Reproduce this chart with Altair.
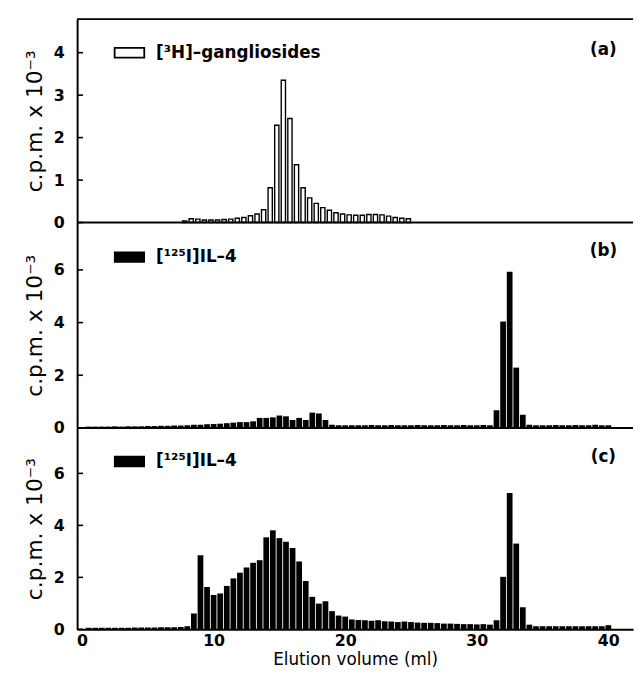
import altair as alt
import pandas as pd

# ---- data ----
ML_A = [7.8, 8.3, 8.8, 9.3, 9.8, 10.3, 10.8, 11.3, 11.8, 12.3, 12.8, 13.3,
        13.8, 14.3, 14.8, 15.3, 15.8, 16.3, 16.8, 17.3, 17.8, 18.3, 18.8,
        19.3, 19.8, 20.3, 20.8, 21.3, 21.8, 22.3, 22.8, 23.3, 23.8, 24.3, 24.8]
CPM_A = [0.04, 0.09, 0.08, 0.06, 0.06, 0.06, 0.07, 0.08, 0.10, 0.12, 0.16,
         0.20, 0.30, 0.82, 2.29, 3.35, 2.45, 1.36, 0.82, 0.58, 0.45, 0.35,
         0.29, 0.23, 0.20, 0.18, 0.17, 0.17, 0.19, 0.19, 0.18, 0.15, 0.12,
         0.10, 0.09]

ML = [0.5, 1.0, 1.5, 2.0, 2.5, 3.0, 3.5, 4.0, 4.5, 5.0, 5.5, 6.0, 6.5, 7.0,
      7.5, 8.0, 8.5, 9.0, 9.5, 10.0, 10.5, 11.0, 11.5, 12.0, 12.5, 13.0,
      13.5, 14.0, 14.5, 15.0, 15.5, 16.0, 16.5, 17.0, 17.5, 18.0, 18.5,
      19.0, 19.5, 20.0, 20.5, 21.0, 21.5, 22.0, 22.5, 23.0, 23.5, 24.0,
      24.5, 25.0, 25.5, 26.0, 26.5, 27.0, 27.5, 28.0, 28.5, 29.0, 29.5,
      30.0, 30.5, 31.0, 31.5, 32.0, 32.5, 33.0, 33.5, 34.0, 34.5, 35.0,
      35.5, 36.0, 36.5, 37.0, 37.5, 38.0, 38.5, 39.0, 39.5, 40.0]

CPM_B = [0.05, 0.05, 0.05, 0.05, 0.06, 0.05, 0.06, 0.06,
         0.06, 0.07, 0.07, 0.08, 0.08, 0.09, 0.09, 0.10,
         0.12, 0.12, 0.14, 0.15, 0.16, 0.18, 0.20, 0.22,
         0.22, 0.25, 0.38, 0.38, 0.40, 0.47, 0.44, 0.30,
         0.38, 0.30, 0.58, 0.55, 0.30, 0.12, 0.10, 0.10,
         0.10, 0.10, 0.10, 0.11, 0.10, 0.10, 0.11, 0.10,
         0.10, 0.10, 0.11, 0.10, 0.10, 0.10, 0.11, 0.10,
         0.10, 0.11, 0.10, 0.10, 0.11, 0.10, 0.67, 4.04,
         5.93, 2.29, 0.50, 0.12, 0.10, 0.10, 0.10, 0.11,
         0.10, 0.10, 0.11, 0.10, 0.10, 0.12, 0.10, 0.10]

CPM_C = [0.06, 0.06, 0.06, 0.06, 0.06, 0.06, 0.06, 0.07,
         0.07, 0.07, 0.07, 0.08, 0.08, 0.08, 0.09, 0.12,
         0.61, 2.85, 1.63, 1.32, 1.38, 1.67, 1.96, 2.18,
         2.38, 2.56, 2.66, 3.54, 3.81, 3.51, 3.37, 3.13,
         2.61, 1.86, 1.25, 0.99, 1.08, 0.70, 0.53, 0.49,
         0.38, 0.36, 0.35, 0.33, 0.35, 0.31, 0.30, 0.28,
         0.30, 0.28, 0.26, 0.25, 0.25, 0.24, 0.22, 0.22,
         0.21, 0.20, 0.20, 0.19, 0.20, 0.18, 0.35, 2.02,
         5.25, 3.30, 0.85, 0.18, 0.12, 0.12, 0.12, 0.12,
         0.12, 0.12, 0.12, 0.12, 0.12, 0.12, 0.12, 0.16]

X_TICKS = [0, 10, 20, 30, 40]
Y_TICKS_A = [0, 1, 2, 3, 4]
Y_TICKS_BC = [0, 2, 4, 6]
LEGEND_A = "[³H]–gangliosides"
LEGEND_BC = "[¹²⁵I]IL–4"
TAGS = ["(a)", "(b)", "(c)"]
Y_TITLE = "c.p.m. x 10⁻³"
X_TITLE = "Elution volume (ml)"

W = 563
XDOM = [0, 41.5]
FONT = "DejaVu Sans"


def panel(ml, cpm, ymax, h, yticks, legend, tag, filled, bottom, top_line,
          leg_y, tag_y):
    df = pd.DataFrame({"ml": ml, "cpm": cpm})
    scale_x = alt.Scale(domain=XDOM, nice=False, zero=False)
    if bottom:
        xaxis = alt.Axis(values=X_TICKS, title=X_TITLE, ticks=False,
                         domain=True, grid=False, labelPadding=3,
                         labelFontSize=16, labelFontWeight="bold",
                         titleFontSize=17, titleFontWeight="normal",
                         titlePadding=4, labelFlush=False)
        x = alt.X("ml:Q", scale=scale_x, axis=xaxis)
    else:
        x = alt.X("ml:Q", scale=scale_x, axis=None)
    y = alt.Y("cpm:Q", scale=alt.Scale(domain=[0, ymax], nice=False),
              axis=alt.Axis(values=yticks, title=Y_TITLE, ticks=False,
                            labelPadding=13, grid=False, format="d",
                            labelFontSize=16, labelFontWeight="bold",
                            titleFontSize=22, titleFontWeight="normal",
                            titlePadding=7))
    if filled:
        bars = alt.Chart(df).mark_bar(size=5.8, color="black")
    else:
        bars = alt.Chart(df).mark_bar(size=4.3, fill="white", stroke="black",
                                      strokeWidth=1.4)
    bars = bars.encode(x=x, y=y)

    tdf = pd.DataFrame({"cpm": yticks})
    ticks = alt.Chart(tdf).mark_rule(color="black", strokeWidth=1.6).encode(
        y=alt.Y("cpm:Q"), x=alt.value(0), x2=alt.value(6))

    ldf = pd.DataFrame({"label": [legend], "tag": [tag]})
    if filled:
        box = alt.Chart(ldf).mark_rect(fill="black", stroke="black",
                                       strokeWidth=1.5)
    else:
        box = alt.Chart(ldf).mark_rect(fill="white", stroke="black",
                                       strokeWidth=1.8)
    box = box.encode(x=alt.value(38), x2=alt.value(68),
                     y=alt.value(leg_y - 5), y2=alt.value(leg_y + 5))
    ltext = alt.Chart(ldf).mark_text(
        align="left", baseline="middle", font=FONT, fontSize=17,
        fontWeight="bold", color="black").encode(
        text="label:N", x=alt.value(80), y=alt.value(leg_y))
    ttext = alt.Chart(ldf).mark_text(
        align="center", baseline="middle", font=FONT, fontSize=17,
        fontWeight="bold", color="black").encode(
        text="tag:N", x=alt.value(533), y=alt.value(tag_y))

    layers = [bars, ticks, box, ltext, ttext]
    if not bottom:
        base = alt.Chart(ldf).mark_rule(color="black", strokeWidth=2).encode(
            y=alt.value(h), x=alt.value(0), x2=alt.value(W))
        layers.append(base)
    if top_line:
        line = alt.Chart(ldf).mark_rule(color="black", strokeWidth=2).encode(
            y=alt.value(0), x=alt.value(0), x2=alt.value(W))
        layers.append(line)
    return alt.layer(*layers).properties(width=W, height=h)


pa = panel(ML_A, CPM_A, 4.79, 206, Y_TICKS_A, LEGEND_A, TAGS[0], False,
           False, True, 34, 31)
pb = panel(ML, CPM_B, 7.8, 208, Y_TICKS_BC, LEGEND_BC, TAGS[1], True,
           False, False, 35, 29)
pc = panel(ML, CPM_C, 7.75, 204, Y_TICKS_BC, LEGEND_BC, TAGS[2], True,
           True, False, 34, 30)

chart = alt.vconcat(pa, pb, pc, spacing=0, bounds="flush").configure_view(
    stroke=None).configure_axis(
    domainColor="black", domainWidth=2, labelColor="black",
    titleColor="black", labelFont=FONT, titleFont=FONT).properties(
    padding={"left": 15, "top": 6, "right": 0, "bottom": 5},
    background="white")

chart.save("out.html", embed_options={"renderer": "svg", "actions": False})
